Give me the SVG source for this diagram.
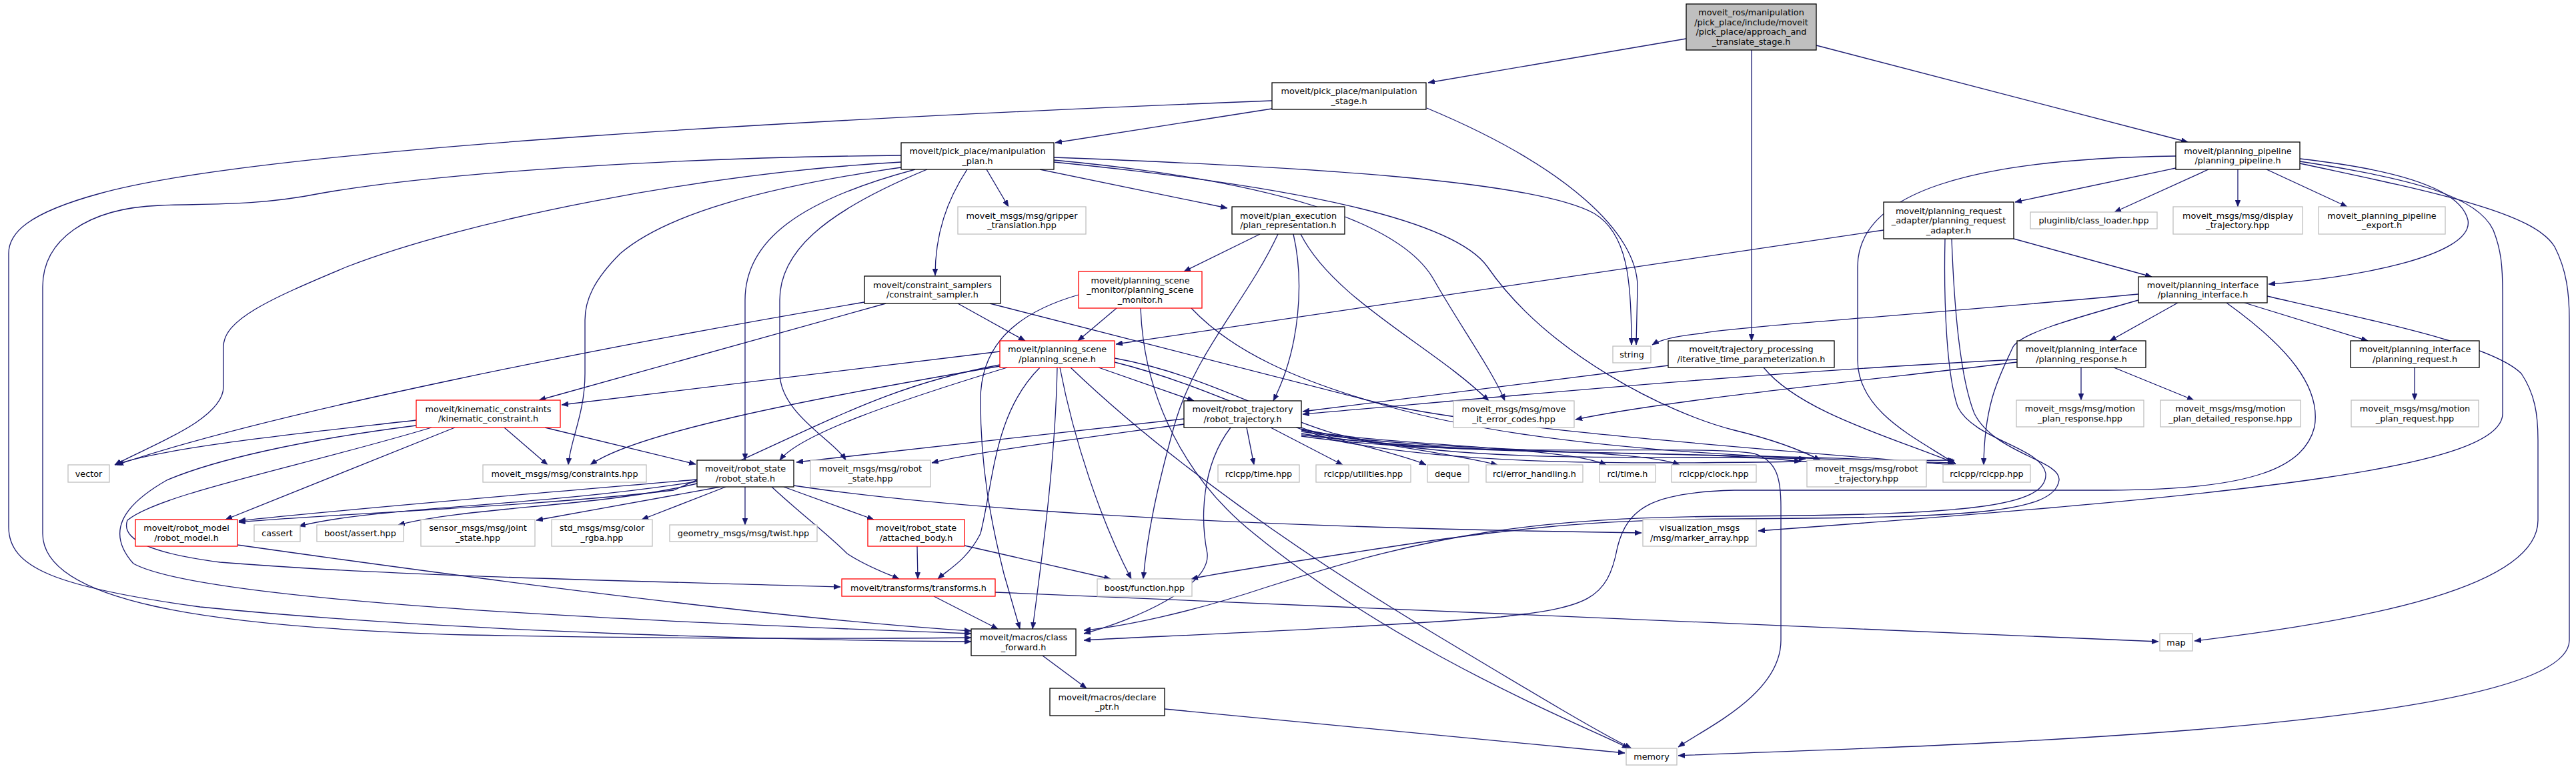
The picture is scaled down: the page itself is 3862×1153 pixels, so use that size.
<svg xmlns="http://www.w3.org/2000/svg" width="3862" height="1153" viewBox="0 0 3862 1153">
<style>
.bg{fill:#fff}
.n rect{fill:#fff;stroke:#000;stroke-width:1.3}
.g rect{fill:#fff;stroke:#bfbfbf;stroke-width:1.3}
.r rect{fill:#fff;stroke:#ff0000;stroke-width:1.3}
.root rect{fill:#bfbfbf;stroke:#000;stroke-width:1.3}
text{font-family:"DejaVu Sans",Verdana,sans-serif;font-size:12.8px;fill:#000;text-anchor:middle;dominant-baseline:central}
#edges path{fill:none;stroke:#191970;stroke-width:1.3;marker-end:url(#ah)}
</style>
<defs>
<marker id="ah" markerWidth="10" markerHeight="8" refX="10" refY="4" orient="auto" markerUnits="userSpaceOnUse"><path d="M0,0 L10,4 L0,8 z" fill="#191970" stroke="#191970" stroke-width="0.5"/></marker>
</defs>
<rect class="bg" x="0" y="0" width="3862" height="1153"/>
<g id="edges">
<path d="M2528,58 L2141,124"/>
<path d="M2723,68 L3280,213"/>
<path d="M2626,75 L2626,511"/>
<path d="M1907,163 L1582,214"/>
<path d="M1907,151 C1300,175 400,220 150,290 C40,320 13,350 13,380 L13,790 C13,850 80,880 300,910 C700,950 1200,960 1456,962"/>
<path d="M2139,162 C2350,250 2455,350 2455,430 L2453,517"/>
<path d="M1580,236 C1950,250 2300,270 2390,320 C2440,350 2446,420 2446,517"/>
<path d="M1479,254 L1512,310"/>
<path d="M1559,254 L1840,312"/>
<path d="M1450,254 C1420,300 1402,350 1402,413"/>
<path d="M1351,233 C1000,236 650,260 480,290 C380,310 300,305 240,308 C130,312 64,360 64,430 L64,800 C64,900 300,940 700,952 C1000,958 1300,958 1456,956"/>
<path d="M1351,243 C1050,260 700,330 520,400 C400,450 335,480 335,520 L335,580 C335,630 220,670 172,697"/>
<path d="M1351,251 C1150,280 1000,320 930,380 C890,420 877,450 877,480 L877,560 C877,620 855,660 852,697"/>
<path d="M1372,254 C1200,300 1117,360 1117,450 L1117,690"/>
<path d="M1390,254 C1230,320 1169,380 1169,450 L1169,560 C1170,620 1250,660 1268,690"/>
<path d="M1580,240 C1900,270 2100,330 2150,420 C2190,490 2240,560 2256,601"/>
<path d="M1580,243 C1950,280 2180,330 2230,400 C2320,530 2500,620 2600,645 C2670,662 2710,680 2729,690"/>
<path d="M3262,252 L3021,303"/>
<path d="M3311,254 L3170,318"/>
<path d="M3355,254 L3355,310"/>
<path d="M3398,254 L3519,310"/>
<path d="M3448,238 C3600,255 3690,285 3700,330 C3710,385 3520,418 3401,426"/>
<path d="M3262,234 C2950,238 2785,290 2785,400 L2785,540 C2785,620 2880,660 2932,696"/>
<path d="M3448,242 C3620,268 3715,295 3738,345 C3750,375 3752,400 3752,440 L3752,620 C3752,700 3400,740 2636,796"/>
<path d="M3448,245 C3660,290 3800,320 3830,370 C3848,405 3852,440 3852,480 L3852,960 C3852,1100 2800,1120 2516,1133"/>
<path d="M1889,351 L1775,407"/>
<path d="M1916,351 C1870,450 1790,530 1760,640 C1735,730 1720,800 1714,868"/>
<path d="M1939,351 C1955,420 1950,520 1909,601"/>
<path d="M1950,351 C2000,450 2150,520 2232,601"/>
<path d="M3019,358 L3226,415"/>
<path d="M2824,345 L1673,516"/>
<path d="M2916,358 C2914,450 2918,560 2935,610 C2960,660 3060,670 3067,710 C3070,760 2950,772 2600,774 C2300,776 2150,800 1900,880 C1780,920 1680,940 1625,945"/>
<path d="M2926,358 C2930,470 2940,570 2960,620 C2990,680 3090,690 3087,720 C3080,770 2950,776 2600,778 C2400,779 2300,790 2150,810 C1950,840 1820,860 1786,868"/>
<path d="M1436,455 L1537,511"/>
<path d="M1328,455 L808,600"/>
<path d="M1296,453 C900,520 400,620 175,697"/>
<path d="M1484,455 L2050,600 C2200,640 2600,670 2930,697"/>
<path d="M1674,462 L1616,511"/>
<path d="M1617,442 C1520,470 1470,520 1470,600 C1470,700 1485,780 1505,860 L1529,943"/>
<path d="M1710,462 C1715,600 1780,720 1880,800 C2100,980 2380,1090 2442,1122"/>
<path d="M1786,462 C1850,530 1950,570 2050,600 C2300,680 2700,688 2930,694"/>
<path d="M1499,527 L842,607"/>
<path d="M1499,547 C1320,580 1230,640 1010,735 C800,760 500,770 358,783"/>
<path d="M1499,549 C1200,600 950,650 885,697"/>
<path d="M1510,551 C1350,600 1200,650 1169,690"/>
<path d="M1647,551 L1790,601"/>
<path d="M1559,551 C1490,620 1490,720 1470,800 C1450,840 1420,855 1406,868"/>
<path d="M1585,551 C1582,700 1560,850 1548,943"/>
<path d="M1589,551 C1610,660 1650,780 1696,868"/>
<path d="M1605,551 C1750,690 1950,830 2150,950 C2300,1040 2400,1100 2446,1122"/>
<path d="M1671,537 C1800,560 1900,620 2000,650 C2200,700 2500,680 2707,688"/>
<path d="M1671,543 C1800,575 1900,630 2000,660 C2250,710 2600,690 2930,690"/>
<path d="M624,630 C450,650 250,670 172,697"/>
<path d="M647,641 C450,700 240,740 191,780 C180,810 230,830 330,843 C600,865 1000,872 1260,880"/>
<path d="M624,638 C450,660 320,690 250,720 C180,760 160,800 200,845 C300,900 900,930 1456,950"/>
<path d="M682,641 L338,779"/>
<path d="M756,641 L821,697"/>
<path d="M817,641 L1043,696"/>
<path d="M356,817 C800,880 1200,930 1456,946"/>
<path d="M1045,719 C800,740 500,765 358,781"/>
<path d="M1045,722 C800,760 560,760 448,789"/>
<path d="M1045,725 C900,760 700,760 597,787"/>
<path d="M1080,730 L804,780"/>
<path d="M1088,730 L962,779"/>
<path d="M1117,730 L1117,787"/>
<path d="M1175,730 L1310,779"/>
<path d="M1157,730 C1200,770 1240,800 1270,830 C1300,850 1330,860 1348,868"/>
<path d="M1190,728 C1400,760 1800,790 2461,799"/>
<path d="M1775,628 C1500,660 1300,680 1194,693"/>
<path d="M1775,636 C1600,660 1450,680 1397,694"/>
<path d="M1869,641 L1880,697"/>
<path d="M1905,641 L2013,697"/>
<path d="M1951,641 C2000,660 2100,680 2138,697"/>
<path d="M1951,643 C2050,665 2180,680 2245,697"/>
<path d="M1951,645 C2100,670 2350,670 2408,697"/>
<path d="M1951,647 C2150,680 2450,670 2518,697"/>
<path d="M1951,650 C2200,690 2500,670 2700,692"/>
<path d="M1951,652 C2250,690 2700,675 2930,697"/>
<path d="M1845,641 C1800,700 1800,780 1810,830 C1815,880 1700,930 1625,950"/>
<path d="M1951,654 C2200,690 2550,665 2630,680 C2665,690 2670,720 2670,760 L2670,960 C2670,1040 2560,1090 2516,1120"/>
<path d="M2501,548 L1953,617"/>
<path d="M2644,551 C2700,620 2850,660 2932,695"/>
<path d="M3024,539 C2600,560 2200,600 1953,621"/>
<path d="M3024,543 C2800,570 2500,600 2362,629"/>
<path d="M3120,551 L3120,600"/>
<path d="M3169,551 L3289,600"/>
<path d="M3620,551 L3620,600"/>
<path d="M3265,454 L3163,511"/>
<path d="M3365,454 L3550,511"/>
<path d="M3206,441 C2900,470 2600,490 2550,500 C2500,505 2485,512 2477,517"/>
<path d="M3206,450 C3100,480 3030,500 3018,520 C3000,560 2975,600 2974,697"/>
<path d="M3338,454 C3430,520 3480,580 3470,640 C3455,700 3380,735 3160,735 L2600,735 C2480,738 2440,760 2425,820 C2410,900 2380,910 2250,925 C2000,945 1700,955 1625,960"/>
<path d="M3399,444 C3600,490 3740,520 3780,560 C3800,590 3805,620 3805,660 L3805,780 C3805,880 3550,930 3290,961"/>
<path d="M1400,894 L1496,943"/>
<path d="M1492,888 L3236,962"/>
<path d="M1375,819 L1376,868"/>
<path d="M1446,818 L1665,868"/>
<path d="M1563,983 L1629,1032"/>
<path d="M1746,1063 L2436,1129"/>
</g>
<g id="n_root" class="root"><rect x="2528" y="6" width="195" height="69"/><text x="2625.5" y="18.75">moveit_ros/manipulation</text><text x="2625.5" y="33.25">/pick_place/include/moveit</text><text x="2625.5" y="47.75">/pick_place/approach_and</text><text x="2625.5" y="62.25">_translate_stage.h</text></g>
<g id="n_ms" class="n"><rect x="1907" y="124" width="231" height="40"/><text x="2022.5" y="136.75">moveit/pick_place/manipulation</text><text x="2022.5" y="151.25">_stage.h</text></g>
<g id="n_pp" class="n"><rect x="3262" y="213" width="186" height="41"/><text x="3355" y="226.25">moveit/planning_pipeline</text><text x="3355" y="240.75">/planning_pipeline.h</text></g>
<g id="n_mp" class="n"><rect x="1351" y="214" width="229" height="40"/><text x="1465.5" y="226.75">moveit/pick_place/manipulation</text><text x="1465.5" y="241.25">_plan.h</text></g>
<g id="n_gt" class="g"><rect x="1436" y="310" width="192" height="41"/><text x="1532" y="323.25">moveit_msgs/msg/gripper</text><text x="1532" y="337.75">_translation.hpp</text></g>
<g id="n_pr" class="n"><rect x="1847" y="310" width="169" height="41"/><text x="1931.5" y="323.25">moveit/plan_execution</text><text x="1931.5" y="337.75">/plan_representation.h</text></g>
<g id="n_pra" class="n"><rect x="2824" y="303" width="195" height="55"/><text x="2921.5" y="316">moveit/planning_request</text><text x="2921.5" y="330.5">_adapter/planning_request</text><text x="2921.5" y="345">_adapter.h</text></g>
<g id="n_cl" class="g"><rect x="3044" y="318" width="190" height="25"/><text x="3139" y="330.5">pluginlib/class_loader.hpp</text></g>
<g id="n_dt" class="g"><rect x="3258" y="310" width="194" height="41"/><text x="3355" y="323.25">moveit_msgs/msg/display</text><text x="3355" y="337.75">_trajectory.hpp</text></g>
<g id="n_pe" class="g"><rect x="3476" y="310" width="190" height="41"/><text x="3571" y="323.25">moveit_planning_pipeline</text><text x="3571" y="337.75">_export.h</text></g>
<g id="n_cs" class="n"><rect x="1296" y="414" width="204" height="41"/><text x="1398" y="427.25">moveit/constraint_samplers</text><text x="1398" y="441.75">/constraint_sampler.h</text></g>
<g id="n_psm" class="r"><rect x="1617" y="407" width="185" height="55"/><text x="1709.5" y="420">moveit/planning_scene</text><text x="1709.5" y="434.5">_monitor/planning_scene</text><text x="1709.5" y="449">_monitor.h</text></g>
<g id="n_pi" class="n"><rect x="3206" y="415" width="193" height="39"/><text x="3302.5" y="427.25">moveit/planning_interface</text><text x="3302.5" y="441.75">/planning_interface.h</text></g>
<g id="n_ps" class="r"><rect x="1499" y="511" width="172" height="40"/><text x="1585" y="523.75">moveit/planning_scene</text><text x="1585" y="538.25">/planning_scene.h</text></g>
<g id="n_str" class="g"><rect x="2418" y="519" width="57" height="25"/><text x="2446.5" y="531.5">string</text></g>
<g id="n_itp" class="n"><rect x="2501" y="511" width="249" height="40"/><text x="2625.5" y="523.75">moveit/trajectory_processing</text><text x="2625.5" y="538.25">/iterative_time_parameterization.h</text></g>
<g id="n_presp" class="n"><rect x="3024" y="511" width="193" height="40"/><text x="3120.5" y="523.75">moveit/planning_interface</text><text x="3120.5" y="538.25">/planning_response.h</text></g>
<g id="n_preq" class="n"><rect x="3524" y="511" width="193" height="40"/><text x="3620.5" y="523.75">moveit/planning_interface</text><text x="3620.5" y="538.25">/planning_request.h</text></g>
<g id="n_kc" class="r"><rect x="624" y="600" width="216" height="41"/><text x="732" y="613.25">moveit/kinematic_constraints</text><text x="732" y="627.75">/kinematic_constraint.h</text></g>
<g id="n_rt" class="n"><rect x="1775" y="601" width="176" height="40"/><text x="1863" y="613.75">moveit/robot_trajectory</text><text x="1863" y="628.25">/robot_trajectory.h</text></g>
<g id="n_mec" class="g"><rect x="2179" y="601" width="181" height="40"/><text x="2269.5" y="613.75">moveit_msgs/msg/move</text><text x="2269.5" y="628.25">_it_error_codes.hpp</text></g>
<g id="n_mpr" class="g"><rect x="3023" y="600" width="191" height="40"/><text x="3118.5" y="612.75">moveit_msgs/msg/motion</text><text x="3118.5" y="627.25">_plan_response.hpp</text></g>
<g id="n_mpdr" class="g"><rect x="3239" y="600" width="210" height="40"/><text x="3344" y="612.75">moveit_msgs/msg/motion</text><text x="3344" y="627.25">_plan_detailed_response.hpp</text></g>
<g id="n_mpreq" class="g"><rect x="3525" y="600" width="191" height="40"/><text x="3620.5" y="612.75">moveit_msgs/msg/motion</text><text x="3620.5" y="627.25">_plan_request.hpp</text></g>
<g id="n_vec" class="g"><rect x="102" y="697" width="62" height="26"/><text x="133" y="710">vector</text></g>
<g id="n_cons" class="g"><rect x="724" y="697" width="245" height="26"/><text x="846.5" y="710">moveit_msgs/msg/constraints.hpp</text></g>
<g id="n_rs" class="n"><rect x="1045" y="690" width="145" height="40"/><text x="1117.5" y="702.75">moveit/robot_state</text><text x="1117.5" y="717.25">/robot_state.h</text></g>
<g id="n_rsh" class="g"><rect x="1215" y="690" width="180" height="40"/><text x="1305" y="702.75">moveit_msgs/msg/robot</text><text x="1305" y="717.25">_state.hpp</text></g>
<g id="n_rtime" class="g"><rect x="1826" y="697" width="122" height="26"/><text x="1887" y="710">rclcpp/time.hpp</text></g>
<g id="n_rutil" class="g"><rect x="1973" y="697" width="142" height="26"/><text x="2044" y="710">rclcpp/utilities.hpp</text></g>
<g id="n_deque" class="g"><rect x="2140" y="697" width="62" height="26"/><text x="2171" y="710">deque</text></g>
<g id="n_reh" class="g"><rect x="2228" y="697" width="145" height="26"/><text x="2300.5" y="710">rcl/error_handling.h</text></g>
<g id="n_rcltime" class="g"><rect x="2398" y="697" width="84" height="26"/><text x="2440" y="710">rcl/time.h</text></g>
<g id="n_clock" class="g"><rect x="2506" y="697" width="127" height="26"/><text x="2569.5" y="710">rclcpp/clock.hpp</text></g>
<g id="n_rth" class="g"><rect x="2709" y="690" width="179" height="40"/><text x="2798.5" y="702.75">moveit_msgs/msg/robot</text><text x="2798.5" y="717.25">_trajectory.hpp</text></g>
<g id="n_rclcpp" class="g"><rect x="2913" y="697" width="131" height="26"/><text x="2978.5" y="710">rclcpp/rclcpp.hpp</text></g>
<g id="n_rm" class="r"><rect x="203" y="779" width="153" height="40"/><text x="279.5" y="791.75">moveit/robot_model</text><text x="279.5" y="806.25">/robot_model.h</text></g>
<g id="n_cassert" class="g"><rect x="381" y="787" width="69" height="25"/><text x="415.5" y="799.5">cassert</text></g>
<g id="n_bassert" class="g"><rect x="475" y="787" width="130" height="25"/><text x="540" y="799.5">boost/assert.hpp</text></g>
<g id="n_js" class="g"><rect x="631" y="779" width="171" height="40"/><text x="716.5" y="791.75">sensor_msgs/msg/joint</text><text x="716.5" y="806.25">_state.hpp</text></g>
<g id="n_crgba" class="g"><rect x="827" y="779" width="151" height="40"/><text x="902.5" y="791.75">std_msgs/msg/color</text><text x="902.5" y="806.25">_rgba.hpp</text></g>
<g id="n_twist" class="g"><rect x="1004" y="787" width="221" height="25"/><text x="1114.5" y="799.5">geometry_msgs/msg/twist.hpp</text></g>
<g id="n_ab" class="r"><rect x="1301" y="779" width="145" height="40"/><text x="1373.5" y="791.75">moveit/robot_state</text><text x="1373.5" y="806.25">/attached_body.h</text></g>
<g id="n_ma" class="g"><rect x="2463" y="779" width="170" height="40"/><text x="2548" y="791.75">visualization_msgs</text><text x="2548" y="806.25">/msg/marker_array.hpp</text></g>
<g id="n_tf" class="r"><rect x="1262" y="868" width="230" height="26"/><text x="1377" y="881">moveit/transforms/transforms.h</text></g>
<g id="n_bf" class="g"><rect x="1645" y="868" width="142" height="26"/><text x="1716" y="881">boost/function.hpp</text></g>
<g id="n_map" class="g"><rect x="3238" y="950" width="49" height="26"/><text x="3262.5" y="963">map</text></g>
<g id="n_cf" class="n"><rect x="1456" y="943" width="157" height="40"/><text x="1534.5" y="955.75">moveit/macros/class</text><text x="1534.5" y="970.25">_forward.h</text></g>
<g id="n_dp" class="n"><rect x="1574" y="1032" width="172" height="41"/><text x="1660" y="1045.25">moveit/macros/declare</text><text x="1660" y="1059.75">_ptr.h</text></g>
<g id="n_mem" class="g"><rect x="2438" y="1122" width="76" height="25"/><text x="2476" y="1134.5">memory</text></g>
</svg>
